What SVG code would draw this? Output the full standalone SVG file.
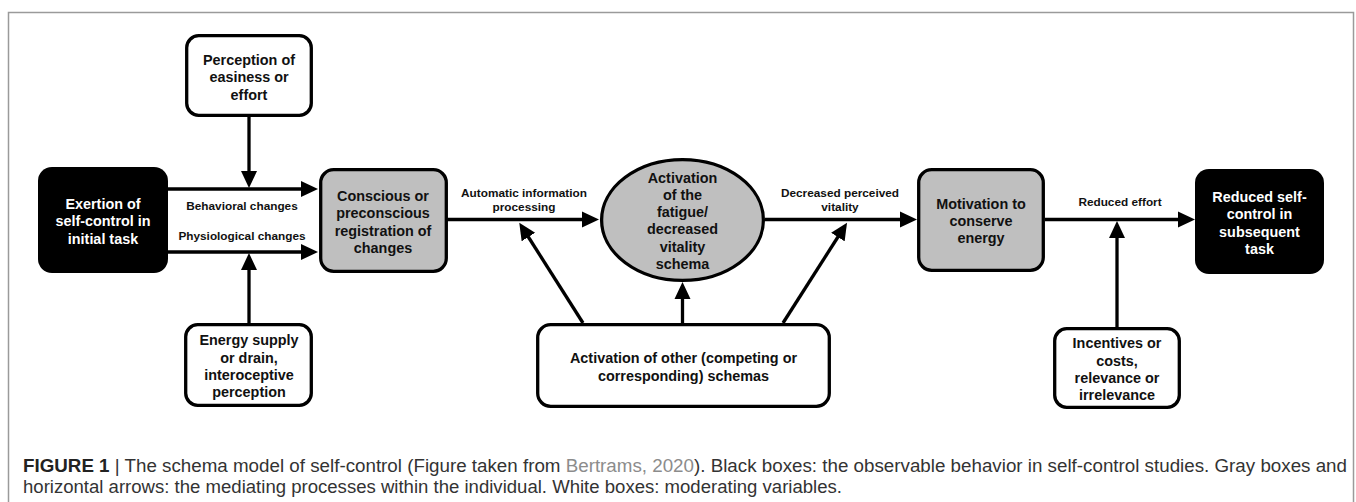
<svg xmlns="http://www.w3.org/2000/svg" width="1356" height="502" viewBox="0 0 1356 502">
<style>
  .box { stroke: #000; stroke-width: 3.3; }
  .white { fill: #fff; }
  .gray { fill: #bfbfbf; }
  .black { fill: #000; }
  .t { font-family: "Liberation Sans", Arial, sans-serif; font-weight: bold; font-size: 14.4px; text-anchor: middle; fill: #111; }
  .tw { fill: #fff; }
  .lbl { font-family: "Liberation Sans", Arial, sans-serif; font-weight: bold; font-size: 11.8px; text-anchor: middle; fill: #111; }
  .conn { stroke: #000; stroke-width: 3.3; fill: none; marker-end: url(#arrow); }
  .cap { font-family: "Liberation Sans", Arial, sans-serif; font-size: 17.5px; fill: #333; }
</style>
<defs>
  <marker id="arrow" markerUnits="userSpaceOnUse" markerWidth="18" markerHeight="17" refX="3" refY="8" orient="auto" viewBox="0 0 18 16">
    <path d="M0,0 L17,8 L0,16 Z" fill="#000"/>
  </marker>
</defs>
<rect x="0" y="0" width="1356" height="502" fill="#fff"/>
<path d="M8.5,503 V12.5 H1353.5 V503" fill="none" stroke="#9a9a9a" stroke-width="1.5"/>

<g id="connectors">
  <line class="conn" x1="249" y1="117" x2="249" y2="174"/>
  <line class="conn" x1="168" y1="189" x2="304" y2="189"/>
  <line class="conn" x1="168" y1="252" x2="304" y2="252"/>
  <line class="conn" x1="249" y1="323" x2="249" y2="267"/>
  <line class="conn" x1="447" y1="219.5" x2="585" y2="219.5"/>
  <line class="conn" x1="765" y1="219.5" x2="903" y2="219.5"/>
  <line class="conn" x1="1045" y1="219.5" x2="1181" y2="219.5"/>
  <line class="conn" x1="682.5" y1="323" x2="682.5" y2="296"/>
  <line class="conn" x1="583" y1="323" x2="526.8" y2="234.5"/>
  <line class="conn" x1="783" y1="323" x2="839.5" y2="234.5"/>
  <line class="conn" x1="1117" y1="327" x2="1117" y2="235"/>
  <text class="lbl" x="242" y="209.5">Behavioral changes</text>
  <text class="lbl" x="242" y="240">Physiological changes</text>
  <text class="lbl" x="524" y="196.7">Automatic information</text>
  <text class="lbl" x="524" y="210.7">processing</text>
  <text class="lbl" x="840" y="197.3">Decreased perceived</text>
  <text class="lbl" x="840" y="211">vitality</text>
  <text class="lbl" x="1120" y="205.7">Reduced effort</text>
</g>

<g id="perception">
  <rect class="box white" x="186.7" y="35.7" width="124.6" height="79.6" rx="12"/>
  <text class="t" x="249" y="65">Perception of</text>
  <text class="t" x="249" y="82.3">easiness or</text>
  <text class="t" x="249" y="99.6">effort</text>
</g>

<g id="exertion">
  <rect class="black" x="38" y="167" width="130" height="106" rx="14"/>
  <text class="t tw" x="103" y="208.5">Exertion of</text>
  <text class="t tw" x="103" y="226">self-control in</text>
  <text class="t tw" x="103" y="243.5">initial task</text>
</g>

<g id="conscious">
  <rect class="box gray" x="320.7" y="169.7" width="125.6" height="101.6" rx="13"/>
  <text class="t" x="383" y="201">Conscious or</text>
  <text class="t" x="383" y="218.4">preconscious</text>
  <text class="t" x="383" y="235.8">registration of</text>
  <text class="t" x="383" y="253.2">changes</text>
</g>

<g id="energy">
  <rect class="box white" x="185.7" y="324.7" width="125.6" height="80.6" rx="12"/>
  <text class="t" x="249" y="345.3">Energy supply</text>
  <text class="t" x="249" y="362.7">or drain,</text>
  <text class="t" x="249" y="380">interoceptive</text>
  <text class="t" x="249" y="397.4">perception</text>
</g>

<g id="fatigue-schema">
  <ellipse class="box gray" cx="682.5" cy="220" rx="80.9" ry="60.4"/>
  <text class="t" x="682.5" y="182.7">Activation</text>
  <text class="t" x="682.5" y="199.9">of the</text>
  <text class="t" x="682.5" y="217.1">fatigue/</text>
  <text class="t" x="682.5" y="234.3">decreased</text>
  <text class="t" x="682.5" y="251.5">vitality</text>
  <text class="t" x="682.5" y="268.7">schema</text>
</g>

<g id="other-schemas">
  <rect class="box white" x="537.7" y="324.7" width="291.6" height="81.6" rx="13"/>
  <text class="t" x="683.5" y="363.3">Activation of other (competing or</text>
  <text class="t" x="683.5" y="381">corresponding) schemas</text>
</g>

<g id="motivation">
  <rect class="box gray" x="918.7" y="169.7" width="124.6" height="100.6" rx="13"/>
  <text class="t" x="981" y="208.5">Motivation to</text>
  <text class="t" x="981" y="225.8">conserve</text>
  <text class="t" x="981" y="243.1">energy</text>
</g>

<g id="reduced">
  <rect class="black" x="1195" y="169" width="129" height="105" rx="14"/>
  <text class="t tw" x="1259.5" y="201.7">Reduced self-</text>
  <text class="t tw" x="1259.5" y="219.1">control in</text>
  <text class="t tw" x="1259.5" y="236.5">subsequent</text>
  <text class="t tw" x="1259.5" y="253.9">task</text>
</g>

<g id="incentives">
  <rect class="box white" x="1054.7" y="328.7" width="124.6" height="78.6" rx="12"/>
  <text class="t" x="1117" y="348.3">Incentives or</text>
  <text class="t" x="1117" y="365.5">costs,</text>
  <text class="t" x="1117" y="382.7">relevance or</text>
  <text class="t" x="1117" y="399.9">irrelevance</text>
</g>

<g id="caption">
  <text class="cap" x="23" y="472" textLength="1324" lengthAdjust="spacingAndGlyphs"><tspan font-weight="bold" fill="#222">FIGURE 1</tspan> | The schema model of self-control (Figure taken from <tspan fill="#8c8c8c">Bertrams, 2020</tspan>). Black boxes: the observable behavior in self-control studies. Gray boxes and</text>
  <text class="cap" x="23" y="493" textLength="819" lengthAdjust="spacingAndGlyphs">horizontal arrows: the mediating processes within the individual. White boxes: moderating variables.</text>
</g>
</svg>
